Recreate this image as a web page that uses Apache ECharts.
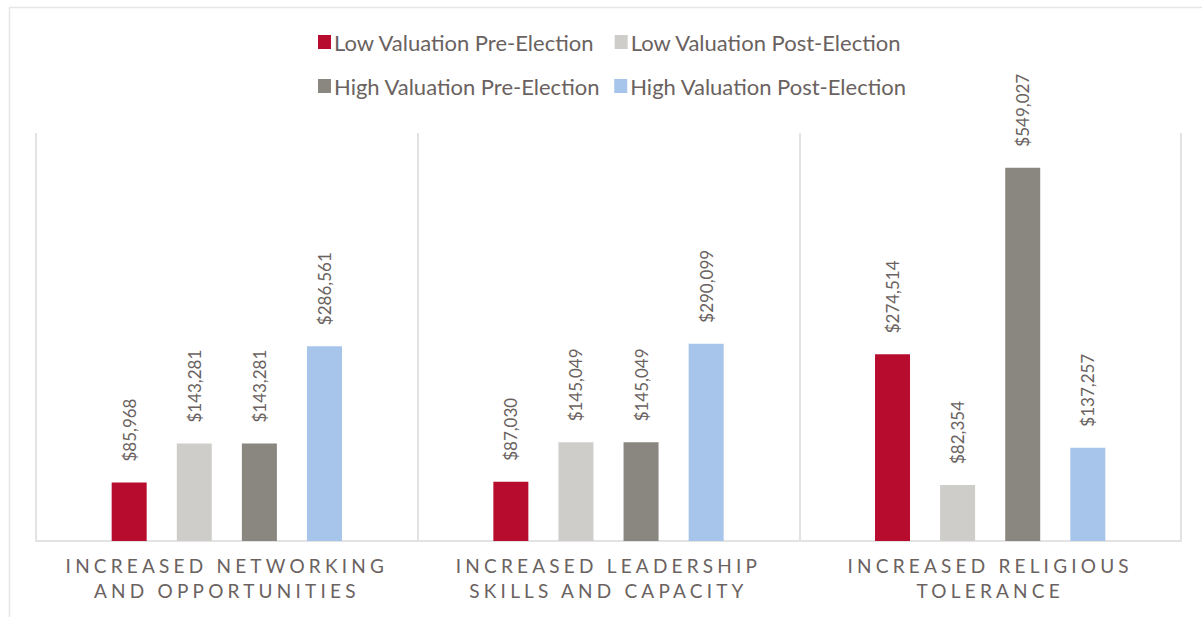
<!DOCTYPE html>
<html>
<head>
<meta charset="utf-8">
<script src="https://cdn.jsdelivr.net/npm/echarts@6/dist/echarts.min.js"></script>
<style>
  html, body { margin: 0; padding: 0; background: #ffffff; }
  #chart { width: 1202px; height: 617px; }
</style>
</head>
<body>
<div id="chart"></div>
<script>
// Categories along the x axis
const categories = [
  'INCREASED NETWORKING\nAND OPPORTUNITIES',
  'INCREASED LEADERSHIP\nSKILLS AND CAPACITY',
  'INCREASED RELIGIOUS\nTOLERANCE'
];

// Series names
const seriesNames = [
  'Low Valuation Pre-Election',
  'Low Valuation Post-Election',
  'High Valuation Pre-Election',
  'High Valuation Post-Election'
];

// Values per series (one per category)
const lowPre = [85968, 87030, 274514];
const lowPost = [143281, 145049, 82354];
const highPre = [143281, 145049, 549027];
const highPost = [286561, 290099, 137257];

const seriesValues = [lowPre, lowPost, highPre, highPost];
const seriesColors = ['#b80c2f', '#cfcdc9', '#8a8680', '#a7c5ea'];

const textColor = '#6a6260';
const fontFamily = 'Lato, "Open Sans", sans-serif';

const chart = echarts.init(document.getElementById('chart'), null, { renderer: 'svg' });

const fmtMoney = v => '$' + Number(v).toLocaleString('en-US');

const legendText = { fontSize: 22, color: textColor, fontFamily: fontFamily, padding: [0, 0, 0, -2] };

const option = {
  animation: false,
  backgroundColor: '#ffffff',
  textStyle: { fontFamily: fontFamily, color: textColor },
  graphic: [{
    type: 'rect',
    left: 7, top: 5,
    shape: { width: 1300, height: 700 },
    style: { fill: 'none', stroke: '#e6e6e6', lineWidth: 1.5 },
    silent: true
  }],
  legend: [
    {
      data: seriesNames.slice(0, 2),
      left: 313, top: 26,
      itemWidth: 13, itemHeight: 14, itemGap: 20,
      icon: 'rect',
      textStyle: legendText
    },
    {
      data: seriesNames.slice(2, 4),
      left: 313, top: 70,
      itemWidth: 13, itemHeight: 14, itemGap: 14,
      icon: 'rect',
      textStyle: legendText
    }
  ],
  grid: { left: 36, right: 21, top: 133, bottom: 76, containLabel: false },
  xAxis: {
    type: 'category',
    data: categories,
    axisLine: { show: true, lineStyle: { color: '#e3e3e3', width: 2 } },
    axisTick: { show: false },
    splitLine: { show: true, lineStyle: { color: '#e3e3e3', width: 2 } },
    axisLabel: {
      interval: 0,
      margin: 12,
      fontSize: 19,
      lineHeight: 25,
      color: textColor,
      fontFamily: fontFamily,
      align: 'center'
    }
  },
  yAxis: {
    type: 'value',
    min: 0,
    max: 600000,
    show: false,
    splitLine: { show: false }
  },
  series: seriesNames.map((name, i) => ({
    name: name,
    type: 'bar',
    data: seriesValues[i],
    barWidth: 35,
    barGap: '86%',
    itemStyle: { color: seriesColors[i] },
    label: {
      show: true,
      position: 'top',
      rotate: 90,
      align: 'left',
      verticalAlign: 'middle',
      distance: 21,
      fontSize: 17,
      color: textColor,
      fontFamily: fontFamily,
      formatter: p => fmtMoney(p.value)
    }
  }))
};

// Wide tracking on the category labels under the axis
const categoryLines = new Set(categories.flatMap(c => c.split('\n')));
function trackCategoryLabels() {
  document.querySelectorAll('#chart svg text').forEach(t => {
    if (categoryLines.has(t.textContent)) {
      t.style.letterSpacing = '4.2px';
    }
  });
}
chart.on('finished', trackCategoryLabels);

chart.setOption(option);
trackCategoryLabels();
</script>
</body>
</html>
